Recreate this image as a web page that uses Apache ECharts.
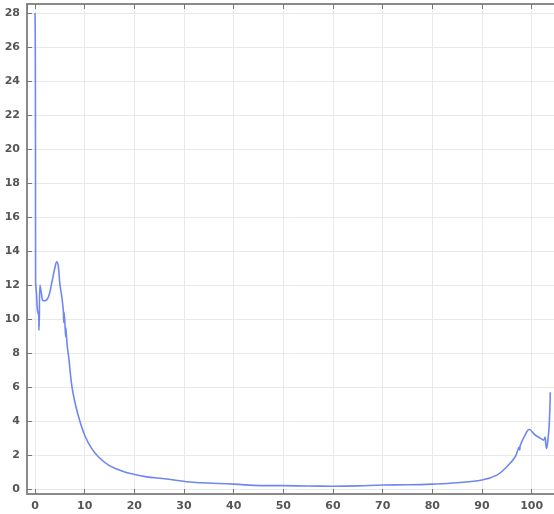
<!DOCTYPE html>
<html>
<head>
<meta charset="utf-8">
<script src="https://cdn.jsdelivr.net/npm/echarts@6/dist/echarts.min.js"></script>
<style>
  html, body { margin: 0; padding: 0; background: #fff; }
  #chart { width: 554px; height: 514px; }
</style>
</head>
<body>
<div id="chart"></div>
<script>
// Sampled curve: abscissa values and the matching ordinates
const xValues = [
  0, 0.05, 0.1, 0.12, 0.3, 0.5, 0.75, 0.8, 0.82, 0.85, 1.0, 1.3, 1.55, 2.0, 2.7, 3.35, 4.0, 4.37, 4.7,
  5.0, 5.4, 5.7, 5.8, 5.85, 6.0, 6.17, 6.2, 6.5, 6.85, 7.4, 8.2, 9.06, 10.07, 11.4, 12.75, 14.8, 17.5,
  20, 22.2, 26.5, 30.5, 33.2, 40, 45.6, 50, 55, 60, 65, 70, 75, 80, 85, 90, 93, 95,
  96.7, 97.5, 97.6, 97.7, 98.7, 99.5, 100.7, 101.7, 102.4, 102.7, 102.85, 103.0, 103.2,
  103.5, 103.7, 103.75
];
const yValues = [
  28.0, 26.8, 20.0, 12.3, 11.5, 10.5, 10.2, 9.35, 10.0, 9.6, 12.0, 11.5, 11.1, 11.08, 11.3, 12.1, 13.0, 13.37, 13.1,
  12.1, 11.3, 10.5, 9.8, 10.4, 9.9, 8.96, 9.5, 8.4, 7.6, 6.1, 4.9, 3.98, 3.12, 2.39, 1.9, 1.41, 1.06,
  0.86, 0.73, 0.59, 0.43, 0.37, 0.29, 0.2, 0.2, 0.18, 0.17, 0.19, 0.24, 0.25, 0.29, 0.37, 0.53, 0.82, 1.31,
  1.9, 2.45, 2.3, 2.55, 3.18, 3.5, 3.18, 3.0, 2.88, 3.05, 2.6, 2.39, 2.7,
  3.6, 5.0, 5.7
];

const points = xValues.map((x, i) => [x, yValues[i]]);

const labelStyle = {
  color: '#555',
  fontFamily: 'DejaVu Sans',
  fontSize: 11,
  fontWeight: 'bold'
};
const axisLineStyle = { color: '#8a8a8a', width: 2 };
const tickStyle = { color: '#777', width: 1 };
const gridLineStyle = { color: '#e9e9e9', width: 1 };

const chart = echarts.init(document.getElementById('chart'), null, { renderer: 'canvas' });
chart.setOption({
  animation: false,
  backgroundColor: '#fff',
  grid: { left: 27, right: 0, top: 4, bottom: 20, containLabel: false },
  xAxis: [
    {
      type: 'value',
      position: 'bottom',
      min: -1.61,
      max: 104.5,
      splitNumber: 10,
      axisLine: { show: true, onZero: false, lineStyle: axisLineStyle },
      axisTick: { show: true, inside: true, length: 5, lineStyle: tickStyle },
      axisLabel: Object.assign({ margin: 7, showMinLabel: false, showMaxLabel: false }, labelStyle),
      splitLine: { show: true, lineStyle: gridLineStyle }
    },
    {
      type: 'value',
      position: 'top',
      min: -1.61,
      max: 104.5,
      splitNumber: 10,
      axisLine: { show: true, onZero: false, lineStyle: axisLineStyle },
      axisTick: { show: true, inside: true, length: 5, lineStyle: tickStyle },
      axisLabel: { show: false },
      splitLine: { show: false }
    }
  ],
  yAxis: {
    type: 'value',
    min: -0.29,
    max: 28.53,
    splitNumber: 14,
    axisLine: { show: true, onZero: false, lineStyle: axisLineStyle },
    axisTick: { show: true, inside: true, length: 5, lineStyle: tickStyle },
    axisLabel: Object.assign({ margin: 7, showMinLabel: false, showMaxLabel: false }, labelStyle),
    splitLine: { show: true, lineStyle: gridLineStyle }
  },
  series: [
    {
      type: 'line',
      xAxisIndex: 0,
      data: points,
      showSymbol: false,
      smooth: 0.4,
      clip: true,
      lineStyle: { color: '#6f87f2', width: 1.6 }
    }
  ]
});
</script>
</body>
</html>
